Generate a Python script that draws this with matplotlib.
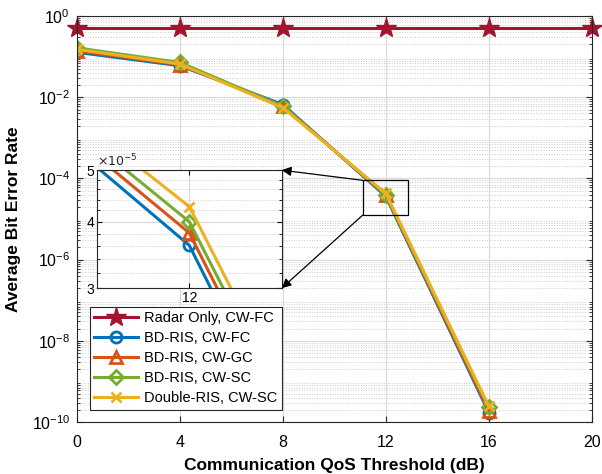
import numpy as np
import matplotlib
matplotlib.use("Agg")
import matplotlib.pyplot as plt
from matplotlib.patches import Rectangle, ConnectionPatch
from matplotlib.ticker import LogLocator, FixedLocator, NullFormatter

plt.rcParams['font.family'] = ['Liberation Sans', 'DejaVu Sans']

# ---- data ----
qos_db = [0, 4, 8, 12, 16]
radar_x = [0, 4, 8, 12, 16, 20]
radar_fc = [0.5, 0.5, 0.5, 0.5, 0.5, 0.5]
bd_fc = [0.128, 0.060, 6.6e-3, 3.61e-5, 1.70e-10]
bd_gc = [0.140, 0.063, 6.2e-3, 3.81e-5, 1.90e-10]
bd_sc = [0.165, 0.072, 6.0e-3, 4.00e-5, 2.30e-10]
dbl_sc = [0.152, 0.066, 5.5e-3, 4.27e-5, 2.45e-10]
x_ticks = [0, 4, 8, 12, 16, 20]
labels = ["Radar Only, CW-FC", "BD-RIS, CW-FC", "BD-RIS, CW-GC",
          "BD-RIS, CW-SC", "Double-RIS, CW-SC"]

c_red = (0.635, 0.078, 0.184)
c_blue = (0.0, 0.447, 0.741)
c_orange = (0.85, 0.325, 0.098)
c_green = (0.466, 0.674, 0.188)
c_yellow = (0.929, 0.694, 0.125)

fig = plt.figure(figsize=(6.02, 4.74), dpi=100)
ax = fig.add_axes([0.128, 0.1097, 0.855, 0.8563])

lw = 2.2

def draw(a, clip=True):
    a.plot(radar_x, radar_fc, color=c_red, lw=lw, marker='*', ms=15,
           mfc=c_red, mec=c_red, label=labels[0], clip_on=clip)
    a.plot(qos_db, bd_fc, color=c_blue, lw=lw, marker='o', ms=8,
           mfc='none', mew=2, label=labels[1])
    a.plot(qos_db, bd_gc, color=c_orange, lw=lw, marker='^', ms=8,
           mfc='none', mew=2, label=labels[2])
    a.plot(qos_db, bd_sc, color=c_green, lw=lw, marker='D', ms=7,
           mfc='none', mew=2, label=labels[3])
    a.plot(qos_db, dbl_sc, color=c_yellow, lw=lw, marker='x', ms=7,
           mew=2, label=labels[4])

draw(ax, clip=False)
ax.set_yscale('log')
ax.set_xlim(0, 20)
ax.set_ylim(1e-10, 1)
ax.set_xticks(x_ticks)
ax.set_yticks([1e-10, 1e-8, 1e-6, 1e-4, 1e-2, 1])
ax.yaxis.set_minor_locator(LogLocator(base=10, subs=np.arange(2, 10), numticks=100))
ax.yaxis.set_minor_formatter(NullFormatter())
ax.grid(True, which='major', color=(0.85, 0.85, 0.85), lw=0.8)
ax.grid(True, which='minor', axis='y', color=(0.8, 0.8, 0.8), lw=0.7, ls=':')
ax.set_axisbelow(True)
ax.tick_params(axis='both', which='both', direction='in', labelsize=11.5,
               top=True, right=True, color=(0.15, 0.15, 0.15))
ax.tick_params(axis='x', pad=9)
ax.tick_params(axis='y', pad=5)
ax.tick_params(which='major', length=4)
ax.tick_params(which='minor', length=2)
for s in ax.spines.values():
    s.set_color((0.15, 0.15, 0.15))
    s.set_linewidth(0.8)
ax.set_xlabel("Communication QoS Threshold (dB)", fontsize=12.5, fontweight='bold',
              labelpad=6)
ax.set_ylabel("Average Bit Error Rate", fontsize=12.5, fontweight='bold', labelpad=8)

leg = ax.legend(loc='lower left', bbox_to_anchor=(0.025, 0.03), fontsize=10.5,
                frameon=True, fancybox=False, edgecolor=(0.15, 0.15, 0.15),
                handlelength=3.0, borderpad=0.3, labelspacing=0.42,
                handletextpad=0.4, framealpha=1, borderaxespad=0)
leg.get_frame().set_linewidth(0.8)

# zoom rectangle on main axes
rx0, rx1 = 11.1, 12.85
ry0, ry1 = 1.25e-5, 9.0e-5
ax.add_patch(Rectangle((rx0, ry0), rx1 - rx0, ry1 - ry0, fill=False,
                       ec='black', lw=0.9, zorder=5))

# inset
axi = fig.add_axes([0.161, 0.392, 0.307, 0.249])
draw(axi)
axi.set_yscale('log')
axi.set_xlim(11.74, 12.26)
axi.set_ylim(3e-5, 5e-5)
axi.set_xticks([12])
axi.yaxis.set_major_locator(FixedLocator([3e-5, 4e-5, 5e-5]))
axi.yaxis.set_minor_locator(FixedLocator(list(np.arange(3.2e-5, 5.0e-5, 0.2e-5))))
axi.yaxis.set_minor_formatter(NullFormatter())
axi.set_yticklabels(['3', '4', '5'])
axi.grid(True, which='major', color=(0.85, 0.85, 0.85), lw=0.8)
axi.grid(True, which='minor', axis='y', color=(0.8, 0.8, 0.8), lw=0.7, ls=':')
axi.tick_params(axis='both', which='both', direction='in', labelsize=10,
                top=True, right=True, pad=2)
axi.tick_params(which='minor', length=2)
for s in axi.spines.values():
    s.set_color((0.15, 0.15, 0.15))
    s.set_linewidth(0.8)
axi.text(0.0, 1.01, r"$\times10^{-5}$", transform=axi.transAxes, fontsize=9,
         ha='left', va='bottom', color=(0.15, 0.15, 0.15))

# connector arrows
for (xa, ya), (xb, yb) in [((rx0, ry1), (1, 1)), ((rx0, ry0), (1, 0))]:
    con = ConnectionPatch(xyA=(xa, ya), coordsA=ax.transData,
                          xyB=(xb, yb), coordsB=axi.transAxes,
                          arrowstyle='-|>', mutation_scale=14, lw=0.9,
                          color='black', zorder=10)
    fig.add_artist(con)

fig.savefig("out.png", dpi=100)
